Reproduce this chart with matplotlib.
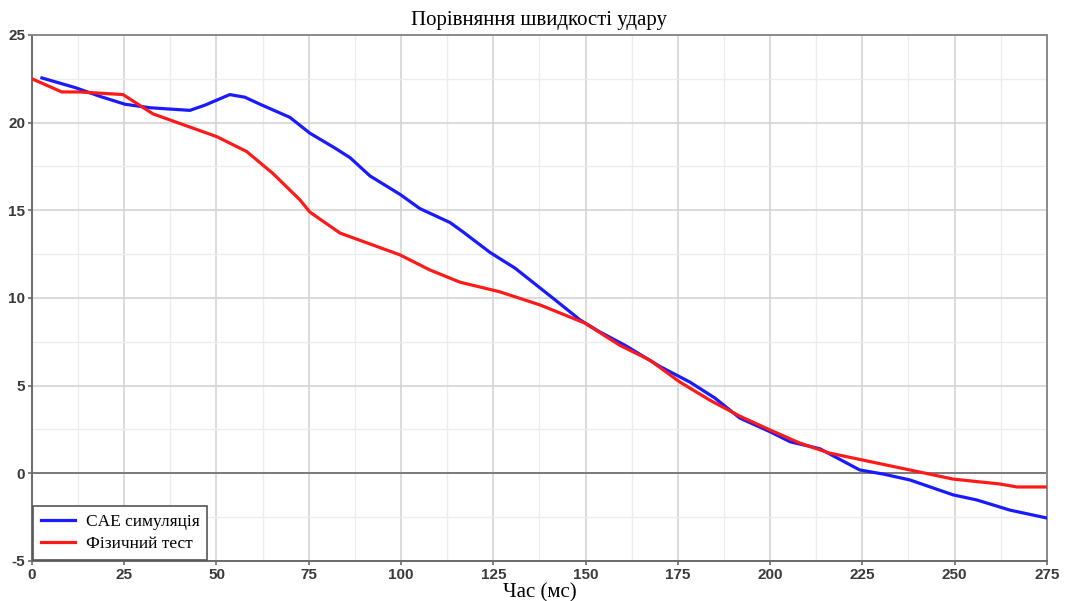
import numpy as np
import matplotlib.pyplot as plt
from matplotlib.ticker import MultipleLocator

# Швидкість удару: CAE симуляція та фізичний тест
t_sim = [2.7, 11.7, 18.4, 25.2, 32.0, 42.8, 46.9, 53.6, 57.7, 61.8, 69.9, 75.3,
         82.1, 86.2, 91.6, 99.8, 105.1, 113.3, 116.6, 124.1, 130.9, 141.7, 148.5,
         153.9, 160.7, 170.1, 178.3, 185.0, 191.8, 200.0, 205.4, 213.5, 224.3,
         230.6, 237.9, 249.6, 256.0, 265.0, 275.0]
v_sim = [22.55, 22.0, 21.5, 21.05, 20.85, 20.7, 21.0, 21.6, 21.45, 21.05, 20.3, 19.4,
         18.55, 18.0, 16.96, 15.9, 15.1, 14.3, 13.8, 12.6, 11.7, 9.9, 8.75,
         8.06, 7.3, 6.1, 5.2, 4.3, 3.15, 2.37, 1.8, 1.4, 0.19,
         -0.04, -0.38, -1.23, -1.52, -2.1, -2.55]

t_test = [0.0, 8.1, 13.0, 24.7, 32.8, 50.1, 58.2, 65.3, 72.6, 75.3, 83.5, 99.7,
          107.8, 116.0, 126.8, 137.7, 149.8, 159.3, 167.4, 175.6, 183.7, 191.8,
          200.0, 208.0, 216.0, 225.0, 237.9, 249.6, 262.3, 266.9, 275.0]
v_test = [22.5, 21.75, 21.75, 21.6, 20.5, 19.2, 18.35, 17.1, 15.6, 14.9, 13.7, 12.46,
          11.6, 10.9, 10.35, 9.6, 8.57, 7.3, 6.46, 5.2, 4.17, 3.26,
          2.47, 1.73, 1.16, 0.76, 0.19, -0.33, -0.61, -0.78, -0.78]

x_ticks = [0, 25, 50, 75, 100, 125, 150, 175, 200, 225, 250, 275]
y_ticks = [-5, 0, 5, 10, 15, 20, 25]

serif = ['Liberation Serif', 'DejaVu Serif']
plt.rcParams['axes.unicode_minus'] = False

fig = plt.figure(figsize=(10.65, 6.01), dpi=100)
ax = fig.add_axes([0.030, 0.0666, 0.953, 0.8752])

ax.set_xlim(0, 275)
ax.set_ylim(-5, 25)
ax.set_xticks(x_ticks)
ax.set_yticks(y_ticks)
ax.xaxis.set_minor_locator(MultipleLocator(12.5))
ax.yaxis.set_minor_locator(MultipleLocator(2.5))
ax.grid(which='major', color='#d4d4d4', linewidth=1.2)
ax.grid(which='minor', color='#ececec', linewidth=1.0)
ax.set_axisbelow(True)
ax.axhline(0, color='#7a7a7a', linewidth=1.4, zorder=1)

ax.plot(t_sim, v_sim, color='#1a1aff', linewidth=2.3, label='CAE симуляція', zorder=3)
ax.plot(t_test, v_test, color='#ff1a1a', linewidth=2.3, label='Фізичний тест', zorder=3)

for sp in ax.spines.values():
    sp.set_color('#8a8a8a')
    sp.set_linewidth(1.4)
ax.spines['left'].set_color('#6a6a6a')
ax.spines['bottom'].set_color('#6a6a6a')

ax.tick_params(which='major', length=3, width=1.2, color='#6a6a6a', pad=2,
               labelsize=11, labelcolor='#3a3a3a')
ax.tick_params(which='minor', length=0)
for lab in ax.get_xticklabels() + ax.get_yticklabels():
    lab.set_fontweight('bold')
    lab.set_family(['Liberation Sans', 'DejaVu Sans'])

ax.set_title('Порівняння швидкості удару', family=serif, fontsize=15, pad=7)
ax.set_xlabel('Час (мс)', family=serif, fontsize=15, labelpad=1)

leg = ax.legend(loc='lower left', prop={'family': serif, 'size': 12.5},
                frameon=True, fancybox=False, borderaxespad=0.05,
                handlelength=2.0, handletextpad=0.6, borderpad=0.45,
                labelspacing=0.35)
leg.get_frame().set_edgecolor('#555555')
leg.get_frame().set_linewidth(1.2)
leg.get_frame().set_alpha(1)

fig.savefig('out.png', dpi=100)
